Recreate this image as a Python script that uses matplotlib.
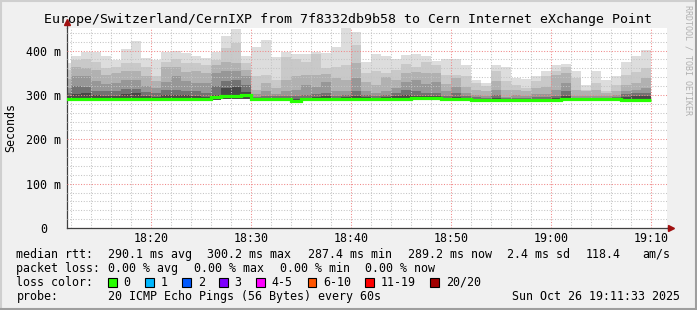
import matplotlib

matplotlib.use("Agg")
import matplotlib.pyplot as plt
import numpy as np
from matplotlib.lines import Line2D
from matplotlib.patches import Rectangle

plt.rcParams["font.family"] = ["DejaVu Sans Mono"]

# one step per minute, first step starts 18:11 (minutes counted from 18:00)
FIRST_MINUTE = 11

# smoke: sorted ping quantile edges per step (ms), top -> bottom
rtt_max = [373, 388, 398, 398, 388, 378, 403, 422, 383, 379, 398, 400, 394, 388, 383,
           398, 433, 449, 388, 409, 424, 386, 398, 393, 393, 398, 394, 409, 451, 442,
           375, 393, 388, 381, 390, 392, 388, 377, 381, 381, 368, 334, 328, 368, 364,
           339, 336, 342, 355, 367, 370, 353, 323, 355, 333, 342, 375, 387, 402]
rtt_q1 = [356, 378, 381, 375, 360, 363, 372, 373, 364, 342, 375, 382, 372, 372, 368,
          379, 405, 417, 372, 342, 345, 334, 385, 380, 375, 392, 360, 364, 368, 413,
          349, 353, 349, 357, 370, 364, 375, 368, 345, 345, 342, 327, 320, 353, 331,
          323, 316, 331, 342, 355, 362, 338, 311, 327, 310, 323, 345, 351, 360]
rtt_q2 = [335, 364, 360, 357, 345, 349, 353, 353, 342, 332, 364, 364, 352, 353, 349,
          368, 375, 372, 357, 312, 327, 315, 334, 342, 345, 345, 348, 338, 334, 372,
          330, 323, 340, 334, 349, 352, 350, 349, 325, 338, 319, 312, 309, 331, 312,
          312, 308, 316, 319, 344, 349, 312, 308, 312, 304, 308, 323, 327, 338]
rtt_q3 = [315, 342, 342, 332, 325, 328, 334, 334, 320, 315, 330, 342, 332, 327, 327,
          349, 353, 353, 342, 302, 308, 302, 308, 312, 322, 318, 330, 308, 308, 338,
          310, 304, 310, 315, 330, 334, 325, 330, 308, 319, 304, 300, 298, 312, 296,
          300, 298, 302, 302, 311, 326, 298, 298, 298, 298, 300, 308, 312, 315]
rtt_q4 = [305, 320, 318, 310, 308, 310, 314, 314, 306, 304, 312, 312, 310, 308, 304,
          320, 332, 334, 323, 296, 298, 297, 298, 298, 300, 302, 305, 298, 300, 308,
          300, 298, 300, 304, 312, 308, 305, 304, 298, 304, 298, 295, 294, 300, 293,
          294, 294, 296, 296, 298, 308, 294, 294, 294, 294, 296, 302, 304, 304]
rtt_q5 = [298, 302, 305, 300, 298, 298, 302, 304, 298, 296, 300, 300, 300, 298, 296,
          300, 315, 318, 306, 293, 294, 294, 294, 292, 294, 296, 298, 294, 295, 298,
          295, 294, 295, 298, 300, 298, 298, 297, 294, 296, 294, 292, 291, 294, 291,
          291, 291, 292, 292, 293, 297, 293, 293, 293, 292, 293, 296, 298, 298]
rtt_min = [289, 289, 288, 288, 288, 288, 288, 289, 288, 288, 288, 288, 288, 288, 288,
           289, 290, 290, 291, 288, 288, 289, 288, 286, 288, 289, 289, 288, 288, 288,
           288, 288, 288, 288, 288, 289, 289, 289, 288, 288, 288, 286, 286, 286, 286,
           286, 286, 286, 286, 286, 288, 288, 288, 288, 288, 288, 286, 286, 287]
rtt_median = [292, 292, 290, 290, 290, 290, 290, 292, 290, 290, 290, 290, 290, 290, 290,
              296, 298, 298, 300.2, 290, 290, 292, 290, 287.4, 290, 292, 292, 290, 290, 290,
              291, 291, 291, 291, 291, 293, 293, 293, 291, 291, 291, 288, 288, 288, 288,
              288, 288, 288, 288, 288, 291, 291, 291, 290, 290, 290, 288, 288, 289.2]

TIME_TICKS = [20, 30, 40, 50, 60, 70]
TIME_LABELS = ["18:20", "18:30", "18:40", "18:50", "19:00", "19:10"]
Y_TICKS = [0, 100, 200, 300, 400]
Y_LABELS = ["0", "100 m", "200 m", "300 m", "400 m"]

SMOKE_GREYS = ["#dddddd", "#c9c9c9", "#b1b1b1", "#979797", "#727272", "#484848"]
LOSS_LABELS = ["0", "1", "2", "3", "4-5", "6-10", "11-19", "20/20"]
LOSS_COLORS = ["#26ff00", "#00b8ff", "#0059ff", "#7e00ff", "#ff00ff", "#ff5500", "#ff0000", "#a10000"]

W, H = 697, 310


def fx(px):
    return px / W


def fy(py):
    return 1 - py / H


fig = plt.figure(figsize=(W / 100, H / 100), dpi=100, facecolor="#f0f0f0")
ax = fig.add_axes([fx(67), fy(228), 600 / W, 200 / H])
ax.set_facecolor("white")

minutes = FIRST_MINUTE + np.arange(len(rtt_max))
lows = np.array(rtt_min, dtype=float)
for grey, upper in zip(SMOKE_GREYS, [rtt_max, rtt_q1, rtt_q2, rtt_q3, rtt_q4, rtt_q5]):
    upper = np.array(upper, dtype=float)
    ax.bar(minutes, upper - lows, bottom=lows, width=1.0, align="edge",
           color=grey, linewidth=0, zorder=1)

edges = np.append(minutes, minutes[-1] + 1)
ax.stairs(rtt_median, edges, baseline=None, color="#26ff00", linewidth=2.3, zorder=4)

ax.set_xlim(11.6, 71.6)
ax.set_ylim(0, 451)

ax.set_xticks(TIME_TICKS)
ax.set_xticklabels(TIME_LABELS)
ax.set_xticks(np.arange(12, 72, 2), minor=True)
ax.set_yticks(Y_TICKS)
ax.set_yticklabels(Y_LABELS)
ax.set_yticks(np.arange(20, 451, 20), minor=True)
ax.set_axisbelow(False)
ax.grid(which="minor", color="#c4c4c4", linestyle=(0, (1, 1.6)), linewidth=0.75)
ax.grid(which="major", color="#f08888", linestyle=(0, (1, 1.6)), linewidth=0.75)

ax.tick_params(which="both", length=0, labelsize=8.4)
ax.tick_params(axis="x", pad=3)
ax.tick_params(axis="y", pad=23 * 0.72)
for lab in ax.get_yticklabels():
    lab.set_horizontalalignment("center")

for side in ["top", "right"]:
    ax.spines[side].set_visible(False)
for side in ["left", "bottom"]:
    ax.spines[side].set_color("#404040")
    ax.spines[side].set_linewidth(0.9)

# axis extensions and arrows
ax.plot([0, 0], [1.0, 1.025], color="#404040", linewidth=0.9, transform=ax.transAxes, clip_on=False)
ax.plot([1.0, 1.004], [0, 0], color="#404040", linewidth=0.9, transform=ax.transAxes, clip_on=False)
ax.plot([0], [1.03], marker="^", markersize=5, color="#a01010", transform=ax.transAxes,
        clip_on=False, zorder=6)
ax.plot([1.006], [0], marker=">", markersize=5, color="#a01010", transform=ax.transAxes,
        clip_on=False, zorder=6)

fig.text(fx(348), fy(19.3), "Europe/Switzerland/CernIXP from 7f8332db9b58 to Cern Internet eXchange Point",
         ha="center", va="center", fontsize=9.5)
fig.text(fx(10.7), fy(128), "Seconds", rotation=90, ha="center", va="center", fontsize=8.4)
fig.text(fx(688), fy(5), "RRDTOOL / TOBI OETIKER", rotation=270, ha="center", va="top",
         fontsize=6, color="#b0b0b0")

# legend rows
row1 = [(16.4, "median rtt:"), (107.6, "290.1 ms avg"), (207, "300.2 ms max"),
        (307.6, "287.4 ms min"), (407.6, "289.2 ms now"), (507, "2.4 ms sd"),
        (585.8, "118.4"), (642.2, "am/s")]
for x, s in row1:
    fig.text(fx(x), fy(254.3), s, ha="left", va="center", fontsize=8.4)

row2 = [(16.4, "packet loss:"), (107.6, "0.00 % avg"), (194, "0.00 % max"),
        (280, "0.00 % min"), (365, "0.00 % now")]
for x, s in row2:
    fig.text(fx(x), fy(268.3), s, ha="left", va="center", fontsize=8.4)

fig.text(fx(16.4), fy(282.3), "loss color:", ha="left", va="center", fontsize=8.4)
box_lefts = [108, 145.3, 182.2, 219, 256, 307.6, 365.3, 430.2]
for left, color, label in zip(box_lefts, LOSS_COLORS, LOSS_LABELS):
    fig.add_artist(Rectangle((fx(left), fy(286.7)), 8.5 / W, 8.5 / H, transform=fig.transFigure,
                             facecolor=color, edgecolor="black", linewidth=0.8))
    fig.text(fx(left + 15.6), fy(282.3), label, ha="left", va="center", fontsize=8.4)

fig.text(fx(16.4), fy(296.3), "probe:", ha="left", va="center", fontsize=8.4)
fig.text(fx(107.6), fy(296.3), "20 ICMP Echo Pings (56 Bytes) every 60s", ha="left", va="center", fontsize=8.4)
fig.text(fx(680), fy(296.3), "Sun Oct 26 19:11:33 2025", ha="right", va="center", fontsize=8.4)

# rrdtool style frame
fig.add_artist(Line2D([0, 1], [fy(1), fy(1)], transform=fig.transFigure, color="#cfcfcf", linewidth=1.5))
fig.add_artist(Line2D([fx(1), fx(1)], [0, 1], transform=fig.transFigure, color="#cfcfcf", linewidth=1.5))
fig.add_artist(Line2D([0, 1], [fy(309), fy(309)], transform=fig.transFigure, color="#9e9e9e", linewidth=1.5))
fig.add_artist(Line2D([fx(696), fx(696)], [0, 1], transform=fig.transFigure, color="#9e9e9e", linewidth=1.5))

fig.savefig("out.png", dpi=100, facecolor=fig.get_facecolor())
